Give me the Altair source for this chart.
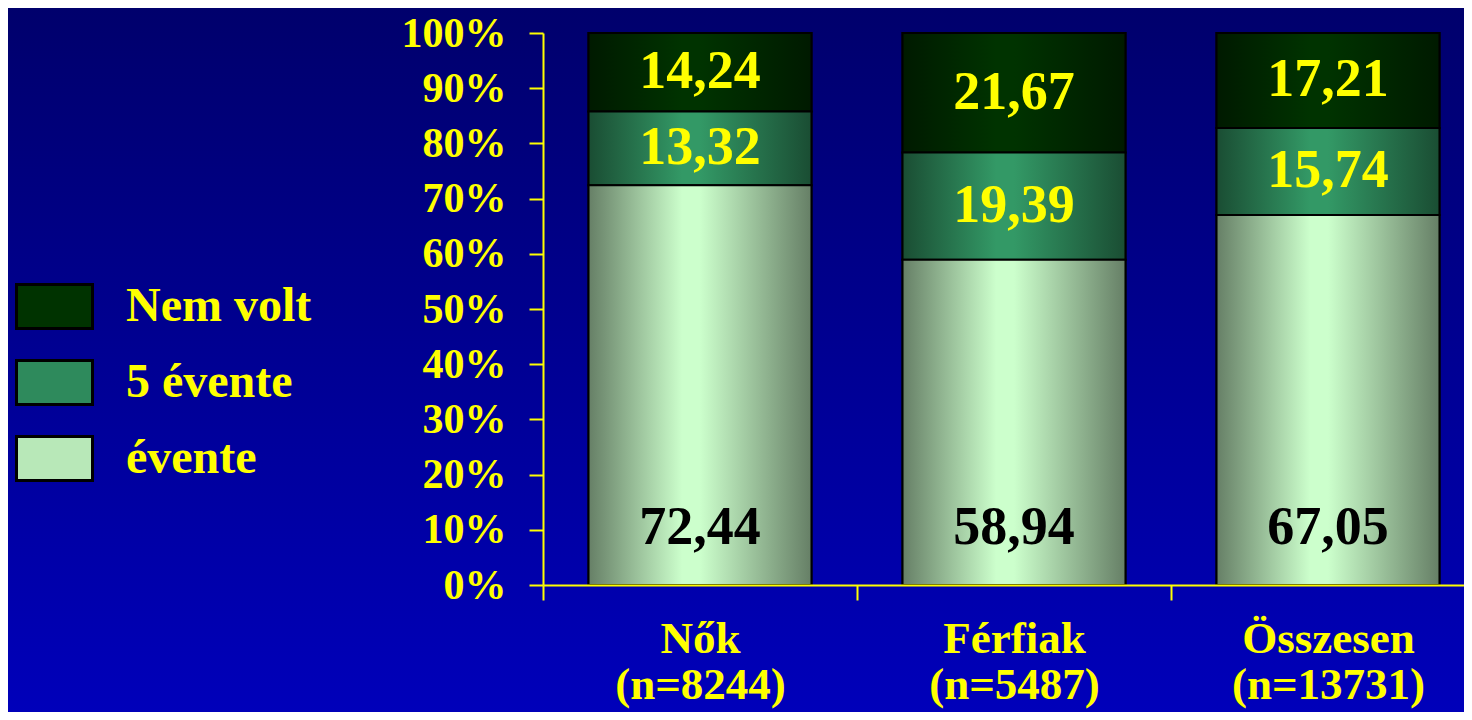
import altair as alt
import pandas as pd

# ---- data ----
groups = ["Nők", "Férfiak", "Összesen"]
ns = [8244, 5487, 13731]
series_order = ["Nem volt", "5 évente", "évente"]
evente = [72.44, 58.94, 67.05]
ot_evente = [13.32, 19.39, 15.74]
nem_volt = [14.24, 21.67, 17.21]
y_ticks = [0, 10, 20, 30, 40, 50, 60, 70, 80, 90, 100]

cats = [f"{g}\n(n={n})" for g, n in zip(groups, ns)]
rows = []
for i, c in enumerate(cats):
    start = 0.0
    for s, vals in [("évente", evente), ("5 évente", ot_evente), ("Nem volt", nem_volt)]:
        v = vals[i]
        rows.append({"cat": c, "series": s, "value": v, "start": start,
                     "end": min(start + v, 100.0),
                     "label": f"{v:.2f}".replace(".", ",")})
        start += v
df = pd.DataFrame(rows)

FONT = "Liberation Serif"
YEL = "#FFFF00"
W = 942
STEP = W / 3
CANVAS_W = 1456
CANVAS_H = 704
PAD_L, PAD_T, H = 535, 25, 552

x_enc = alt.X("cat:N", sort=cats, title=None,
              scale=alt.Scale(paddingInner=0.29, paddingOuter=0.145),
              axis=alt.Axis(labelExpr="split(datum.label, '\\n')", labelFont=FONT,
                            labelFontSize=45, labelFontWeight="bold", labelColor=YEL,
                            labelLineHeight=46, labelPadding=16, labelAngle=0,
                            labelBaseline="top", labelLimit=500, tickOffset=-STEP / 2,
                            labelOffset=STEP / 2, tickSize=15,
                            tickColor=YEL, tickWidth=2, domainColor=YEL, domainWidth=2,
                            grid=False, zindex=1))

y_scale = alt.Scale(domain=[0, 100], nice=False)
y_axis = alt.Axis(values=y_ticks, labelExpr="datum.value + '%'", labelFont=FONT,
                  labelFontSize=42, labelFontWeight="bold", labelColor=YEL,
                  labelPadding=23, tickSize=14, tickColor=YEL, tickWidth=2,
                  domainColor=YEL, domainWidth=2, grid=False, title=None, zindex=1)


def hgrad(edge, center):
    return alt.LinearGradient(
        gradient="linear", x1=0, x2=1, y1=0, y2=0,
        stops=[alt.GradientStop(color=edge, offset=0),
               alt.GradientStop(color=center, offset=0.42),
               alt.GradientStop(color=center, offset=0.5),
               alt.GradientStop(color=edge, offset=1)])


grads = {
    "évente": hgrad("#667F66", "#CCFFCC"),
    "5 évente": hgrad("#1A4D33", "#339966"),
    "Nem volt": hgrad("#001A00", "#003300"),
}

bg = alt.Chart(pd.DataFrame({"k": [0]})).mark_rect(
    fill=alt.LinearGradient(gradient="linear", x1=0, x2=0, y1=0, y2=1,
                            stops=[alt.GradientStop(color="#00006C", offset=0),
                                   alt.GradientStop(color="#0000BA", offset=1)])
).encode(x=alt.value(-PAD_L), x2=alt.value(W), y=alt.value(-PAD_T),
         y2=alt.value(CANVAS_H - PAD_T))

base = alt.Chart(df)

flat = base.mark_bar(stroke="black", strokeWidth=2).encode(
    x=x_enc,
    y=alt.Y("start:Q", scale=y_scale, axis=y_axis),
    y2="end:Q",
    color=alt.Color("series:N", sort=series_order,
                    scale=alt.Scale(domain=series_order,
                                    range=["#003300", "#2E8A5C", "#B8E8B8"]),
                    legend=alt.Legend(title=None, orient="none", legendX=-528,
                                      legendY=234,
                                      symbolType="M-1,-0.579L1,-0.579L1,0.579L-1,0.579Z",
                                      symbolSize=5776, symbolStrokeColor="black",
                                      symbolStrokeWidth=3, symbolOpacity=1,
                                      labelFont=FONT, labelFontSize=48,
                                      labelFontWeight="bold", labelColor=YEL,
                                      labelOffset=32, labelLimit=400, rowPadding=8,
                                      padding=0)),
)

grad_layers = []
for s in series_order:
    grad_layers.append(
        base.transform_filter(alt.datum.series == s).mark_bar(
            stroke="black", strokeWidth=2, fill=grads[s]
        ).encode(x=alt.X("cat:N", sort=cats), y=alt.Y("start:Q", scale=y_scale), y2="end:Q")
    )

upper_text = base.transform_filter(alt.datum.series != "évente").transform_calculate(
    mid="(datum.start + datum.end) / 2"
).mark_text(font=FONT, fontSize=54, fontWeight="bold", color=YEL, baseline="middle").encode(
    x=alt.X("cat:N", sort=cats), y=alt.Y("mid:Q", scale=y_scale), text="label:N")

lower_text = base.transform_filter(alt.datum.series == "évente").transform_calculate(
    ypos="10.4"
).mark_text(font=FONT, fontSize=54, fontWeight="bold", color="black", baseline="middle").encode(
    x=alt.X("cat:N", sort=cats), y=alt.Y("ypos:Q", scale=y_scale), text="label:N")

chart = alt.layer(bg, flat, *grad_layers, upper_text, lower_text).properties(
    width=W, height=H,
    autosize=alt.AutoSizeParams(type="none"),
    padding={"left": PAD_L, "top": PAD_T, "right": CANVAS_W - PAD_L - W,
             "bottom": CANVAS_H - PAD_T - H},
    background="#0000A0",
).configure_view(stroke=None)

chart.save("out.html", embed_options={"renderer": "svg", "actions": False})
